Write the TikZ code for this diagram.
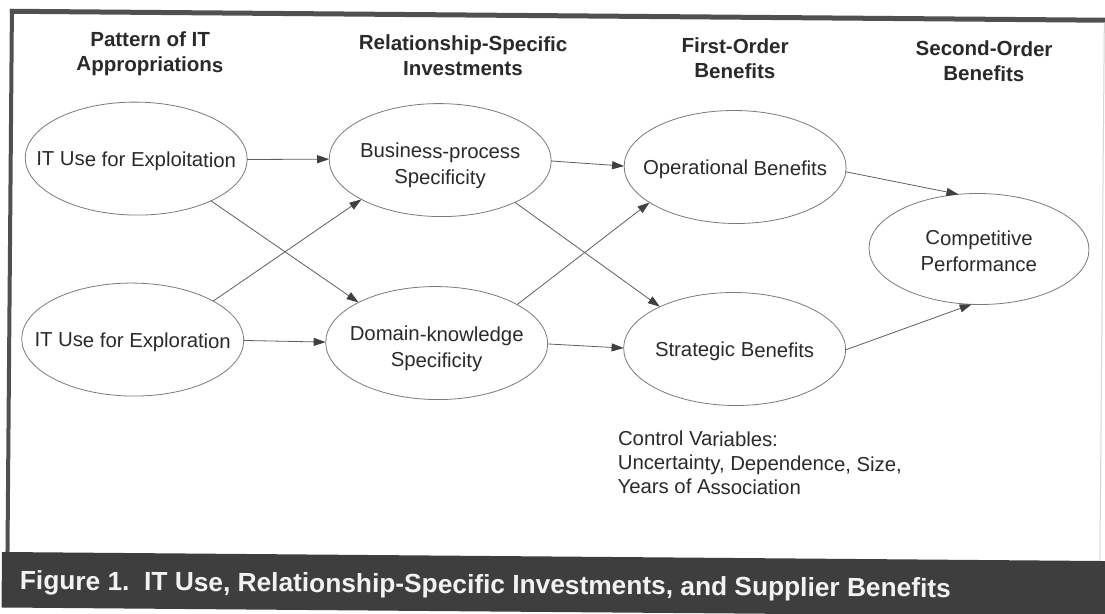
\documentclass[tikz,border=0pt]{standalone}
\usepackage{fontspec}
\setmainfont{Liberation Sans}
\usetikzlibrary{shapes.geometric,arrows.meta}

\definecolor{ink}{HTML}{2A2A2A}
\definecolor{edge}{HTML}{7A7A7A}
\definecolor{wire}{HTML}{5E5E5E}
\definecolor{tipc}{HTML}{404040}
\definecolor{framec}{HTML}{505050}
\definecolor{band}{HTML}{3E3E3E}
\definecolor{rim}{HTML}{D4D4D4}

\begin{document}
\begin{tikzpicture}[x=1pt,y=1pt,
  construct/.style={ellipse, draw=edge, line width=0.8pt,
    inner xsep=-30pt, inner ysep=0pt, outer sep=0pt,
    minimum width=222pt, minimum height=113pt, text height=20pt,
    align=center, text=ink, font=\fontsize{20.3}{26}\selectfont},
  twoline/.style={text height=52.5pt},
  heading/.style={align=center, text=ink, inner sep=0pt,
    font=\bfseries\fontsize{20.5}{25}\selectfont},
  link/.style={draw=wire, line width=0.8pt,
    -{Triangle[length=12pt,width=8pt,color=tipc]}},
]
\useasboundingbox (0,0) rectangle (1105,-613);
\fill[white] (0,0) rectangle (1105,-613);

% the whole sheet sits slightly turned
\begin{scope}[rotate around={-0.47:(552,-306)}, transform shape]
  % frame and caption band
  \fill[band] (4,-556.5) rectangle (1120,-612);
  \fill[framec] (7.5,-13.2) rectangle (1120,-18.2);
  \fill[framec] (7.5,-13.2) rectangle (11.5,-556.5);
  \draw[rim, line width=1pt] (1102,-18.2) -- (1102,-556.5);

  % column headings
  \node[heading] (h1) at (148,-57)   {Pattern of IT\\Appropriations};
  \node[heading] (h2) at (461,-56.5) {Relationship-Specific\\Investments};
  \node[heading] (h3) at (733,-57)   {First-Order\\Benefits};
  \node[heading] (h4) at (982,-57.5) {Second-Order\\Benefits};

  % constructs
  \node[construct] (xploit) at (135,-162)   {IT Use for Exploitation};
  \node[construct] (xplore) at (133,-343)   {IT Use for Exploration};
  \node[construct, twoline] (bps) at (439,-161) {Business-process\\Specificity};
  \node[construct, twoline] (dks) at (437,-344) {Domain-knowledge\\Specificity};
  \node[construct] (ob)     at (734,-165.5) {Operational Benefits};
  \node[construct] (sb)     at (735,-347.5) {Strategic Benefits};
  \node[construct, text height=45pt, minimum width=220pt, minimum height=111pt] (cp)
        at (978.5,-245.5) {Competitive\\Performance};

  % paths
  \draw[link] (xploit.east) -- (bps.west);
  \draw[link] (xploit.-29)  -- (dks.153);
  \draw[link] (xplore.26)   -- (bps.207);
  \draw[link] (xplore.east) -- (dks.west);
  \draw[link] (bps.east)    -- (ob.west);
  \draw[link] (bps.-29)     -- (sb.151);
  \draw[link] (dks.26)      -- (ob.203);
  \draw[link] (dks.east)    -- (sb.west);
  \draw[link] (ob.-2)       -- (cp.111);
  \draw[link] (sb.0)        -- (cp.-97);

  % controls
  \node[anchor=west, align=left, inner sep=0pt, text=ink,
        font=\fontsize{20.3}{24}\selectfont] (ctrl) at (619,-461.5)
        {Control Variables:\\Uncertainty, Dependence, Size,\\Years of Association};

  % caption
  \node[anchor=base west, inner sep=0pt, text=white!95!black,
        font=\bfseries\fontsize{26.3}{30}\selectfont] (cap) at (22,-594)
        {Figure 1.\ \ IT Use, Relationship-Specific Investments, and Supplier Benefits};
\end{scope}
\end{tikzpicture}
\end{document}
